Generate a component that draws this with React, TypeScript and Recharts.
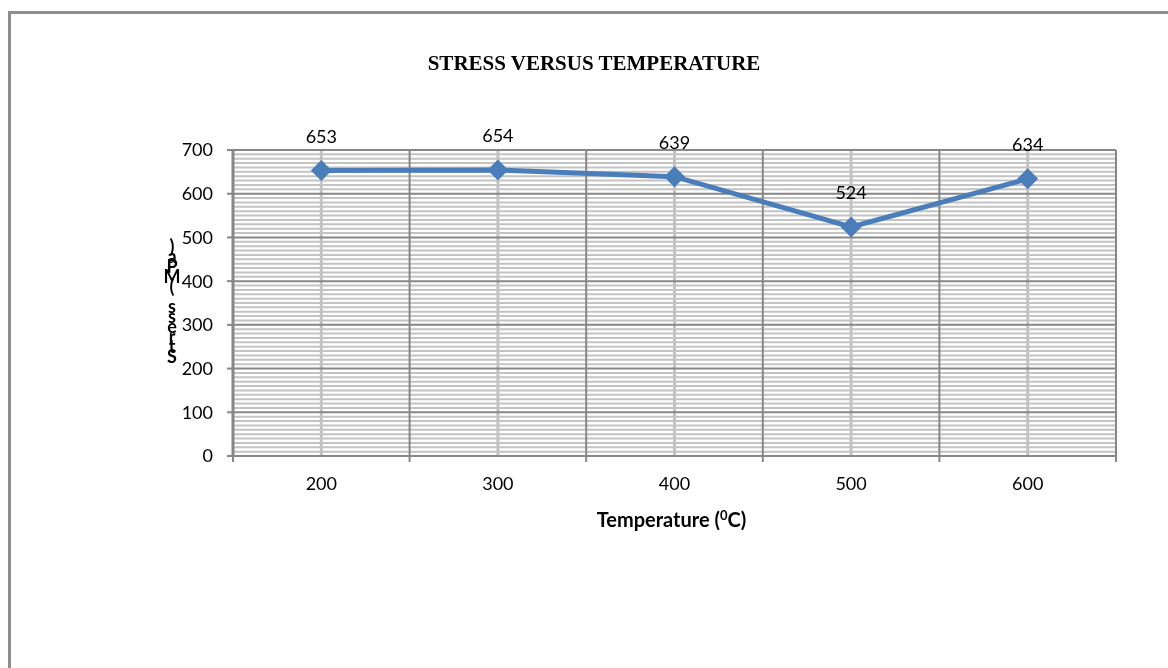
import React from 'react';
import { LineChart, Line, XAxis, YAxis, ReferenceLine, LabelList } from 'recharts';

const temperatures = [200, 300, 400, 500, 600];
const stressValues = [653, 654, 639, 524, 634];
const yTicks = [0, 100, 200, 300, 400, 500, 600, 700];
const categoryBounds = [150, 250, 350, 450, 550, 650];
const chartTitle = 'STRESS VERSUS TEMPERATURE';
const xTitleMain = 'Temperature (';
const xTitleSup = '0';
const xTitleEnd = 'C)';
const yTitle = 'Stress (MPa)';

const data = temperatures.map((t, i) => ({ temp: t, stress: stressValues[i] }));
const minorY: number[] = [];
for (let v = 10; v < 700; v += 10) if (v % 100 !== 0) minorY.push(v);
const xTickValues = [...categoryBounds, ...temperatures].sort((a, b) => a - b);

const DARK = '#878787';
const LIGHT = '#c3c3c3';
const LINE = '#4a7ebb';
const SANS = 'Lato, "Open Sans", sans-serif';

const XTick = (props: any) => {
  const { x, y, payload } = props;
  const v = payload.value;
  if (categoryBounds.includes(v)) {
    return <line x1={x} x2={x} y1={y - 6} y2={y} stroke={DARK} strokeWidth={2} />;
  }
  return (
    <text x={x} y={y + 21} textAnchor="middle" dominantBaseline="central" fontFamily={SANS} fontSize={18} fill="#000">
      {v}
    </text>
  );
};

const Diamond = (props: any) => {
  const { cx, cy } = props;
  if (cx == null || cy == null) return null;
  const r = 10.5;
  return <polygon points={`${cx},${cy - r} ${cx + r},${cy} ${cx},${cy + r} ${cx - r},${cy}`} fill={LINE} />;
};

export default function App() {
  const yChars = yTitle.split('').reverse();
  return (
    <>
      <div
        style={{
          position: 'fixed',
          left: 8,
          top: 11,
          width: 1300,
          height: 800,
          borderTop: '3px solid #8e8e8e',
          borderLeft: '3px solid #8e8e8e',
          boxSizing: 'border-box',
          pointerEvents: 'none',
        }}
      />
      <div
        style={{
          position: 'relative',
          top: 6,
          left: 3,
          width: 1140,
          height: 620,
        }}
      >
        <LineChart
          width={1140}
          height={620}
          data={data}
          margin={{ top: 136, right: 35, left: 162, bottom: 138 }}
        >
          {minorY.map((v) => (
            <ReferenceLine key={'m' + v} y={v} stroke={LIGHT} strokeWidth={2} />
          ))}
          {temperatures.map((v) => (
            <ReferenceLine key={'c' + v} x={v} stroke={LIGHT} strokeWidth={3} />
          ))}
          {yTicks.map((v) => (
            <ReferenceLine key={'M' + v} y={v} stroke={DARK} strokeWidth={2} />
          ))}
          {categoryBounds.map((v) => (
            <ReferenceLine key={'b' + v} x={v} stroke={DARK} strokeWidth={2} />
          ))}
          <XAxis
            dataKey="temp"
            type="number"
            domain={[150, 650]}
            ticks={xTickValues}
            interval={0}
            height={40}
            tickLine={false}
            tickSize={6}
            tickMargin={0}
            axisLine={{ stroke: DARK, strokeWidth: 2 }}
            tick={<XTick />}
          />
          <YAxis
            type="number"
            domain={[0, 700]}
            ticks={yTicks}
            interval={0}
            width={60}
            tickSize={6}
            tickMargin={14}
            axisLine={{ stroke: DARK, strokeWidth: 3 }}
            tickLine={{ stroke: DARK, strokeWidth: 2 }}
            tick={{ fill: '#000', fontSize: 18, fontFamily: SANS }}
          />
          <Line
            dataKey="stress"
            stroke={LINE}
            strokeWidth={5}
            dot={<Diamond />}
            activeDot={false}
            isAnimationActive={false}
          >
            <LabelList dataKey="stress" position="top" offset={28} fill="#000" fontSize={18} fontFamily={SANS} />
          </Line>
        </LineChart>
        <div
          style={{
            position: 'absolute',
            left: 583,
            top: 49,
            transform: 'translate(-50%, -50%)',
            fontFamily: '"Liberation Serif", "Times New Roman", serif',
            fontWeight: 'bold',
            fontSize: 21,
            whiteSpace: 'nowrap',
          }}
        >
          {chartTitle}
        </div>
        <div
          style={{
            position: 'absolute',
            left: 660.5,
            top: 505,
            transform: 'translate(-50%, -50%)',
            fontFamily: SANS,
            fontWeight: 'bold',
            fontSize: 20,
            whiteSpace: 'nowrap',
          }}
        >
          {xTitleMain}
          <span style={{ fontSize: 13, verticalAlign: 'super' }}>{xTitleSup}</span>
          {xTitleEnd}
        </div>
        {yChars.map((c, i) => (
          <div
            key={i}
            style={{
              position: 'absolute',
              left: 161,
              top: 232 + i * 10,
              transform: 'translate(-50%, -50%)',
              fontFamily: SANS,
              fontWeight: 'bold',
              fontSize: 18,
              lineHeight: 1,
            }}
          >
            {c}
          </div>
        ))}
      </div>
    </>
  );
}
